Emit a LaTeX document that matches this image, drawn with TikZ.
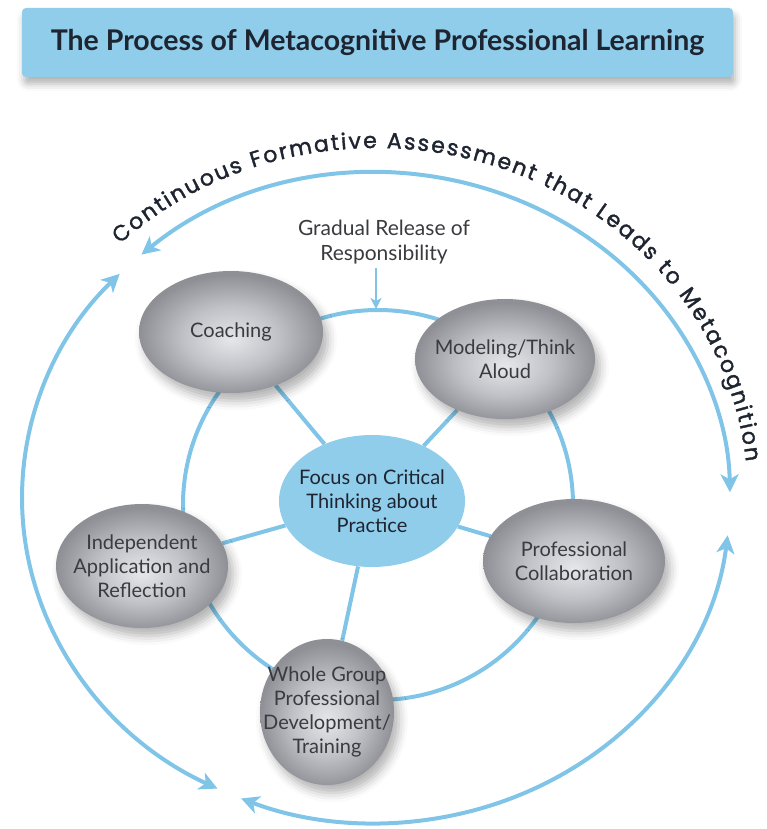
\documentclass[tikz,border=0pt]{standalone}
\usepackage{fontspec}
\setmainfont{Lato}
\newfontfamily\arcfamily[FakeBold=1.6]{Poppins}
\usetikzlibrary{arrows.meta,shapes.geometric,shadows.blur,decorations.text,backgrounds}
\definecolor{ink}{HTML}{1E2530}
\definecolor{label}{HTML}{3A3B3F}
\definecolor{sky}{HTML}{8FCDEB}
\definecolor{ringblue}{HTML}{80C5E7}
\definecolor{ballhi}{HTML}{E6E7EA}
\definecolor{ballmid}{HTML}{BFC1C6}
\definecolor{balllo}{HTML}{8E9096}
\pgfdeclareradialshading{stageball}{\pgfpoint{0bp}{-3bp}}{color(0bp)=(ballhi); color(13bp)=(ballmid); color(25bp)=(balllo); color(50bp)=(balllo)}
\tikzset{
  banner/.style={rectangle, rounded corners=4pt, fill=sky, minimum width=711pt, minimum height=69pt,
    blur shadow={shadow xshift=2pt, shadow yshift=-7pt, shadow blur radius=7pt, shadow opacity=30},
    font=\fontsize{28.5}{32}\selectfont\bfseries, text=ink},
  stage/.style={ellipse, shading=stageball, inner xsep=-22pt, inner ysep=-2pt, align=center,
    font=\fontsize{20}{24}\selectfont, text=label,
    blur shadow={shadow xshift=5pt, shadow yshift=-8pt, shadow blur radius=9pt, shadow opacity=30}},
  focus/.style={ellipse, fill=sky, inner xsep=-20pt, inner ysep=-2pt, align=center,
    font=\fontsize{20}{24}\selectfont, text=ink},
  note/.style={align=center, font=\fontsize{21}{25}\selectfont, text=label},
  ringline/.style={draw=ringblue, line width=4pt},
  outerarc/.style={draw=ringblue, line width=4pt,
    {Stealth[length=18pt,width=18pt,inset=5pt]}-{Stealth[length=18pt,width=18pt,inset=5pt]}},
  pointer/.style={draw=ringblue, line width=2pt, -{Stealth[length=11pt,width=11pt,inset=3pt]}}
}
\newcommand\arcfont{\arcfamily\fontsize{22}{22}\selectfont}

\begin{document}
\begin{tikzpicture}[x=1pt,y=-1pt]
  \useasboundingbox (0,0) rectangle (767,829);

  \node[banner] (title) at (377.5,42.5) {The Process of Metacognitive Professional Learning};

  % outer loop of formative assessment
  \coordinate (hub) at (376,498);
  \coordinate (a1) at ([shift={(228.5:354 and 325)}]hub);
  \coordinate (b1) at ([shift={(116.6:354 and 325)}]hub);
  \coordinate (c1) at ([shift={(6.6:354 and 325)}]hub);
  \coordinate (t1) at ([shift={(226.5:372 and 350)}]hub);
  \draw[outerarc] (a1) arc[start angle=228.5, end angle=359, x radius=354, y radius=325];
  \draw[outerarc] (b1) arc[start angle=116.6, end angle=223.6, x radius=354, y radius=325];
  \draw[outerarc] (c1) arc[start angle=6.6, end angle=112.4, x radius=354, y radius=325];
  \path[decorate, decoration={text along path, text align={fit to path}, text color=ink,
      text={|\arcfont|Continuous Formative Assessment that Leads to Metacognition}}]
    (t1) arc[start angle=226.5, end angle=354, x radius=372, y radius=350];

  \node[note] (grad) at (384,242) {Gradual Release of\\Responsibility};
  \coordinate (ringtop) at (376,309);
  \draw[pointer] (grad.south -| ringtop) -- (ringtop);

  % practices round the centre
  \node[focus, minimum width=186pt, minimum height=132pt] (focus) at (372,501)
    {Focus on Critical\\Thinking about\\Practice};
  \node[stage, minimum width=184pt, minimum height=122pt] (coach) at (231,332) {Coaching};
  \node[stage, minimum width=180pt, minimum height=120pt] (model) at (505,359) {Modeling/Think\\Aloud};
  \node[stage, minimum width=172pt, minimum height=124pt] (indep) at (142,566)
    {Independent\\Application and\\Reflection};
  \node[stage, minimum width=182pt, minimum height=124pt] (collab) at (574,561)
    {Professional\\Collaboration};
  \node[stage, minimum width=134pt, minimum height=146pt] (whole) at (327,712)
    {Whole Group\\Professional\\Development/\\Training};

  \begin{scope}[on background layer]
    \draw[ringline] (378,505) circle[radius=195];
    \foreach \n in {coach,model,indep,collab,whole}
      \draw[ringline] (focus) -- (\n);
  \end{scope}
\end{tikzpicture}
\end{document}
